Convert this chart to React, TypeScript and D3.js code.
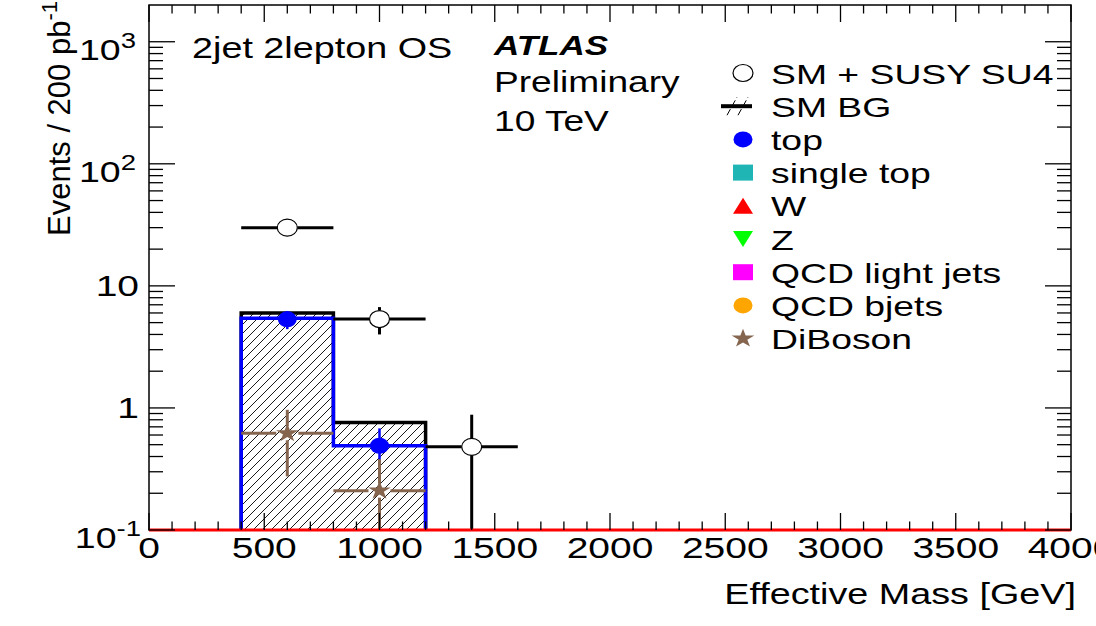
import React from "react";
import * as d3 from "d3";

// ---------- data ----------
const X_DOMAIN = [0, 4000];
const Y_DOMAIN = [0.1, 2000];
const binEdges = [400, 800, 1200];
const smBgValues = [6.0, 0.76];
const topHistValues = [5.42, 0.49];

const susyX = [600, 1000, 1400];
const susyY = [30, 5.35, 0.48];
const susyErr = [1.5, 1.35, 0.4];

const topX = [600, 1000];
const topY = [5.32, 0.49];
const topErr = [0.9, 0.19];

const dibosonX = [600, 1000];
const dibosonY = [0.62, 0.21];
const dibosonErr = [0.345, 0.17];

const binHalfWidth = 200;

const xMajorTicks = [0, 500, 1000, 1500, 2000, 2500, 3000, 3500, 4000];
const yMajorTicks = [0.1, 1, 10, 100, 1000];
const yTickLabels = [
  { base: "10", sup: "-1" },
  { base: "1", sup: "" },
  { base: "10", sup: "" },
  { base: "10", sup: "2" },
  { base: "10", sup: "3" },
];

const legendLabels = [
  "SM + SUSY SU4",
  "SM BG",
  "top",
  "single top",
  "W",
  "Z",
  "QCD light jets",
  "QCD bjets",
  "DiBoson",
];
const legendShapes = ["openCircle", "hatchLine", "circle", "square", "triUp", "triDown", "square", "circle", "star"];
const legendColors = ["#000000", "#000000", "#0000ff", "#1fb5b5", "#ff0000", "#00ff00", "#ff00ff", "#ffa500", "#86654f"];

// ---------- layout ----------
const W = 1096;
const H = 626;
const L = 149, R = 1071, T = 5, B = 530;
const SX = 1.28;
const FONT = "'Liberation Sans', Arial, Helvetica, sans-serif";
const BROWN = "#86654f";

const x = d3.scaleLinear().domain(X_DOMAIN).range([L, R]);
const y = d3.scaleLog().domain(Y_DOMAIN).range([B, T]);

function T_(props: any) {
  const { x: tx, y: ty, anchor = "start", size = 29, weight = "normal", italic = false, children, sx = SX } = props;
  return (
    <text
      transform={`translate(${tx},${ty}) scale(${sx},1)`}
      textAnchor={anchor}
      fontSize={size}
      fontWeight={weight}
      fontStyle={italic ? "italic" : "normal"}
      fontFamily={FONT}
      fill="#000"
    >
      {children}
    </text>
  );
}

function ErrBars(props: any) {
  const { xs, ys, errs, color, gx, gy, width } = props;
  const out: any[] = [];
  xs.forEach((xv: number, i: number) => {
    const cx = x(xv);
    const cy = y(ys[i]);
    const x0 = x(xv - binHalfWidth);
    const x1 = x(xv + binHalfWidth);
    const top = y(ys[i] + errs[i]);
    const lowV = ys[i] - errs[i];
    const bot = lowV > Y_DOMAIN[0] ? y(lowV) : B;
    if (x0 < cx - gx) out.push(<line key={`a${i}`} x1={x0} x2={cx - gx} y1={cy} y2={cy} stroke={color} strokeWidth={width} />);
    if (x1 > cx + gx) out.push(<line key={`b${i}`} x1={cx + gx} x2={x1} y1={cy} y2={cy} stroke={color} strokeWidth={width} />);
    if (top < cy - gy) out.push(<line key={`c${i}`} x1={cx} x2={cx} y1={top} y2={cy - gy} stroke={color} strokeWidth={width} />);
    if (bot > cy + gy) out.push(<line key={`d${i}`} x1={cx} x2={cx} y1={cy + gy} y2={bot} stroke={color} strokeWidth={width} />);
  });
  return <g>{out}</g>;
}

function histPath(values: number[]) {
  const pts: [number, number][] = [];
  pts.push([x(binEdges[0]), B]);
  values.forEach((v, i) => {
    pts.push([x(binEdges[i]), y(v)]);
    pts.push([x(binEdges[i + 1]), y(v)]);
  });
  pts.push([x(binEdges[binEdges.length - 1]), B]);
  return d3.line()(pts) as string;
}

const starPath = d3.symbol(d3.symbolStar, 110)() as string;

function Marker(props: any) {
  const { shape, color, cx, cy } = props;
  switch (shape) {
    case "openCircle":
      return <ellipse cx={cx} cy={cy} rx={10} ry={8.5} fill="#fff" stroke="#000" strokeWidth={1.2} />;
    case "circle":
      return <ellipse cx={cx} cy={cy} rx={9.5} ry={8} fill={color} />;
    case "square":
      return <rect x={cx - 10} y={cy - 8} width={20} height={16} fill={color} />;
    case "triUp":
      return <path d={`M${cx - 10},${cy + 8}L${cx + 10},${cy + 8}L${cx},${cy - 8}Z`} fill={color} />;
    case "triDown":
      return <path d={`M${cx - 10},${cy - 8}L${cx + 10},${cy - 8}L${cx},${cy + 8}Z`} fill={color} />;
    case "star":
      return <path d={starPath} transform={`translate(${cx},${cy}) scale(1.2,1)`} fill={color} />;
    case "hatchLine":
      return (
        <g>
          {[-16, -5].map((o) => (
            <line key={o} x1={cx + o} y1={cy + 9} x2={cx + o + 10} y2={cy - 9} stroke="#000" strokeWidth={1} strokeDasharray="7,3" />
          ))}
          <line x1={cx - 22} x2={cx + 9} y1={cy} y2={cy} stroke="#000" strokeWidth={4} />
        </g>
      );
    default:
      return null;
  }
}

export default function App() {
  const xMinor = d3.range(0, 4001, 100).filter((v) => v % 500 !== 0);
  const yMinor: number[] = [];
  [0.1, 1, 10, 100, 1000].forEach((d) => {
    for (let k = 2; k <= 9; k++) {
      const v = d * k;
      if (v < Y_DOMAIN[1]) yMinor.push(v);
    }
  });

  const legendX = 743;
  const legendTextX = 771;
  const legendY0 = 73;
  const legendDy = 33.2;

  return (
    <svg width={W} height={H} style={{ position: "absolute", left: 0, top: 0, background: "#fff" }}>
      <defs>
        <pattern id="hatch" patternUnits="userSpaceOnUse" width={9} height={9}>
          <path d="M-1,1 l2,-2 M0,9 l9,-9 M8,10 l2,-2" stroke="#000" strokeWidth={0.9} />
        </pattern>
      </defs>
      <rect x={0} y={0} width={W} height={H} fill="#fff" />

      {/* SM BG hatched histogram */}
      <path d={histPath(smBgValues) + "Z"} fill="url(#hatch)" stroke="none" />
      <path d={histPath(smBgValues)} fill="none" stroke="#000" strokeWidth={3.5} />
      {/* top histogram */}
      <path d={histPath(topHistValues)} fill="none" stroke="#0000ff" strokeWidth={3.5} />

      {/* SM + SUSY points */}
      <ErrBars xs={susyX} ys={susyY} errs={susyErr} color="#000" gx={10} gy={8.5} width={3} />
      {susyX.map((xv, i) => (
        <Marker key={`s${i}`} shape="openCircle" cx={x(xv)} cy={y(susyY[i])} />
      ))}

      {/* top points */}
      <ErrBars xs={topX} ys={topY} errs={topErr} color="#0000ff" gx={400} gy={7} width={2.5} />
      {topX.map((xv, i) => (
        <Marker key={`t${i}`} shape="circle" color="#0000ff" cx={x(xv)} cy={y(topY[i])} />
      ))}

      {/* diboson points */}
      <ErrBars xs={dibosonX} ys={dibosonY} errs={dibosonErr} color={BROWN} gx={11} gy={7} width={3} />
      {dibosonX.map((xv, i) => (
        <Marker key={`d${i}`} shape="star" color={BROWN} cx={x(xv)} cy={y(dibosonY[i])} />
      ))}

      {/* frame */}
      <rect x={L} y={T} width={R - L} height={B - T} fill="none" stroke="#000" strokeWidth={1.5} />
      {/* zero-level histograms line */}
      <line x1={L} x2={R} y1={B} y2={B} stroke="#ff0000" strokeWidth={3} />

      {/* x ticks */}
      {xMajorTicks.map((v) => (
        <g key={`xm${v}`}>
          <line x1={x(v)} x2={x(v)} y1={B} y2={B - 17} stroke="#000" strokeWidth={1.3} />
          <line x1={x(v)} x2={x(v)} y1={T} y2={T + 17} stroke="#000" strokeWidth={1.3} />
        </g>
      ))}
      {xMinor.map((v) => (
        <g key={`xn${v}`}>
          <line x1={x(v)} x2={x(v)} y1={B} y2={B - 8.5} stroke="#000" strokeWidth={1.3} />
          <line x1={x(v)} x2={x(v)} y1={T} y2={T + 8.5} stroke="#000" strokeWidth={1.3} />
        </g>
      ))}
      {/* y ticks */}
      {yMajorTicks.map((v) => (
        <g key={`ym${v}`}>
          <line x1={L} x2={L + 26} y1={y(v)} y2={y(v)} stroke="#000" strokeWidth={1.3} />
          <line x1={R} x2={R - 26} y1={y(v)} y2={y(v)} stroke="#000" strokeWidth={1.3} />
        </g>
      ))}
      {yMinor.map((v) => (
        <g key={`yn${v}`}>
          <line x1={L} x2={L + 14} y1={y(v)} y2={y(v)} stroke="#000" strokeWidth={1.3} />
          <line x1={R} x2={R - 14} y1={y(v)} y2={y(v)} stroke="#000" strokeWidth={1.3} />
        </g>
      ))}

      {/* x tick labels */}
      {xMajorTicks.map((v) => (
        <T_ key={`xl${v}`} x={x(v)} y={558} anchor="middle" size={30} sx={1.3}>
          {String(v)}
        </T_>
      ))}

      {/* y tick labels */}
      {yMajorTicks.map((v, i) => {
        const lab = yTickLabels[i];
        if (!lab.sup) {
          return (
            <T_ key={`yl${v}`} x={139} y={y(v) + 10.5} anchor="end" size={30} sx={1.3}>
              {lab.base}
            </T_>
          );
        }
        return (
          <T_ key={`yl${v}`} x={lab.sup === "-1" ? 141 : 136} y={y(v) + 18} anchor="end" size={30} sx={1.25}>
            <tspan>{lab.base}</tspan>
            <tspan fontSize={22} dy={-12}>
              {lab.sup}
            </tspan>
          </T_>
        );
      })}

      {/* axis titles */}
      <T_ x={1076} y={604} anchor="end" size={29.5}>
        Effective Mass [GeV]
      </T_>
      <text
        transform={`translate(70,1) rotate(-90)`}
        textAnchor="end"
        fontSize={31}
        fontFamily={FONT}
        fill="#000"
      >
        <tspan>Events / 200 pb</tspan>
        <tspan fontSize={22} dy={-13}>
          -1
        </tspan>
      </text>

      {/* annotations */}
      <T_ x={192} y={58} size={29.5}>
        2jet 2lepton OS
      </T_>
      <T_ x={494} y={55} size={28} weight="bold" italic sx={1.25}>
        ATLAS
      </T_>
      <T_ x={494} y={92} size={29}>
        Preliminary
      </T_>
      <T_ x={494} y={131} size={29}>
        10 TeV
      </T_>

      {/* legend */}
      {legendLabels.map((lab, i) => {
        const cy = legendY0 + legendDy * i;
        return (
          <g key={`lg${i}`}>
            <Marker shape={legendShapes[i]} color={legendColors[i]} cx={legendX} cy={cy} />
            <T_ x={legendTextX} y={cy + 10.5} size={28.5} sx={1.31}>
              {lab}
            </T_>
          </g>
        );
      })}
    </svg>
  );
}
